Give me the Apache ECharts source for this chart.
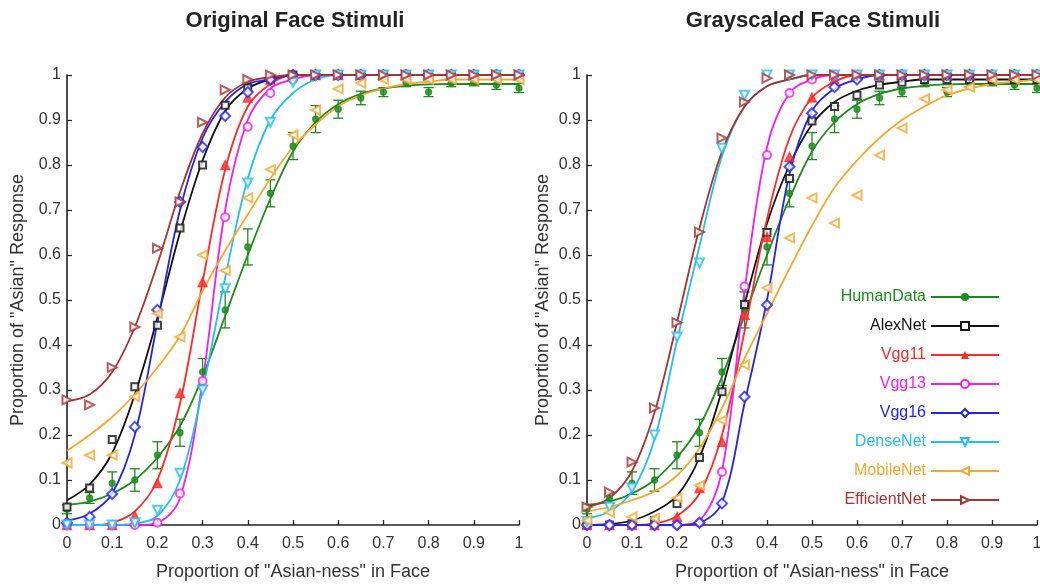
<!DOCTYPE html>
<html><head><meta charset="utf-8">
<script src="https://cdn.jsdelivr.net/npm/echarts@6.0.0/dist/echarts.min.js"></script>
<style>html,body{margin:0;padding:0;background:#fff}#chart{width:1040px;height:585px}</style>
</head><body><div id="chart"></div>
<script>
// ---------- DATA ----------
const xValues = [0,0.05,0.1,0.15,0.2,0.25,0.3,0.35,0.4,0.45,0.5,0.55,0.6,0.65,0.7,0.75,0.8,0.85,0.9,0.95,1];
const modelNames = ['HumanData','AlexNet','Vgg11','Vgg13','Vgg16','DenseNet','MobileNet','EfficientNet'];
const panelTitles = ['Original Face Stimuli','Grayscaled Face Stimuli'];
const xAxisName = 'Proportion of "Asian-ness" in Face';
const yAxisName = 'Proportion of "Asian" Response';

// Human data (same in both panels)
const humanPts = [0.035,0.06,0.093,0.10,0.155,0.205,0.34,0.478,0.618,0.737,0.842,0.902,0.924,0.949,0.962,0.984,0.962,0.982,0.984,0.978,0.971];
const humanErr = [0.01,0.012,0.025,0.025,0.03,0.03,0.03,0.04,0.04,0.03,0.03,0.03,0.02,0.015,0.01,0.01,0.01,0.008,0.008,0.01,0.01];
const humanFit = [0.045,0.052,0.07,0.1,0.15,0.22,0.33,0.465,0.6,0.725,0.83,0.895,0.935,0.958,0.97,0.976,0.979,0.98,0.98,0.98,0.98];

// Original face stimuli (left)
const alexPtsO   = [0.04,0.082,0.19,0.307,0.444,0.66,0.80,0.933,0.971,0.99,1,1,1,1,1,1,1,1,1,1,1];
const alexFitO   = [0.055,0.09,0.16,0.29,0.46,0.65,0.81,0.92,0.97,0.99,1,1,1,1,1,1,1,1,1,1,1];
const vgg11PtsO  = [0,0,0,0.02,0.093,0.293,0.54,0.80,0.95,0.99,1,1,1,1,1,1,1,1,1,1,1];
const vgg11FitO  = [0,0,0.005,0.03,0.1,0.27,0.54,0.79,0.93,0.98,1,1,1,1,1,1,1,1,1,1,1];
const vgg13PtsO  = [0,0,0,0,0.005,0.07,0.32,0.684,0.885,0.96,0.99,1,1,1,1,1,1,1,1,1,1];
const vgg13FitO  = [0,0,0,0,0.005,0.06,0.32,0.7,0.9,0.97,0.99,1,1,1,1,1,1,1,1,1,1];
const vgg16PtsO  = [0.005,0.018,0.069,0.218,0.478,0.718,0.84,0.909,0.962,0.99,1,1,1,1,1,1,1,1,1,1,1];
const vgg16FitO  = [0.01,0.025,0.07,0.2,0.45,0.7,0.86,0.94,0.98,0.99,1,1,1,1,1,1,1,1,1,1,1];
const densePtsO  = [0,0,0,0.005,0.033,0.115,0.3,0.525,0.76,0.895,0.984,1,1,1,1,1,1,1,1,1,1];
const denseFitO  = [0,0,0,0.003,0.02,0.1,0.3,0.55,0.77,0.9,0.96,0.99,1,1,1,1,1,1,1,1,1];
const mobilePtsO = [0.138,0.155,0.155,0.285,0.47,0.418,0.6,0.565,0.727,0.79,0.867,0.922,0.969,0.982,0.99,0.99,0.99,0.99,0.99,0.99,0.99];
const mobileFitO = [0.165,0.2,0.24,0.29,0.35,0.42,0.52,0.61,0.69,0.77,0.84,0.89,0.93,0.955,0.97,0.98,0.985,0.99,0.99,0.99,0.99];
const effPtsO    = [0.278,0.267,0.35,0.44,0.615,0.718,0.895,0.967,0.99,1,1,1,1,1,1,1,1,1,1,1,1];
const effFitO    = [0.275,0.29,0.34,0.44,0.58,0.74,0.87,0.95,0.985,0.995,1,1,1,1,1,1,1,1,1,1,1];

// Grayscaled face stimuli (right)
const alexPtsG   = [0,0,0.003,0.01,0.048,0.15,0.296,0.49,0.65,0.77,0.898,0.93,0.955,0.978,0.984,0.99,0.99,0.99,0.99,0.99,0.99];
const alexFitG   = [0,0.002,0.01,0.03,0.065,0.15,0.3,0.49,0.67,0.8,0.89,0.94,0.965,0.978,0.985,0.99,0.99,0.99,0.99,0.99,0.99];
const vgg11PtsG  = [0,0,0,0,0.018,0.082,0.185,0.467,0.64,0.818,0.95,0.99,1,1,1,1,1,1,1,1,1];
const vgg11FitG  = [0,0,0,0.003,0.02,0.07,0.2,0.43,0.68,0.86,0.95,0.985,1,1,1,1,1,1,1,1,1];
const vgg13PtsG  = [0,0,0,0,0,0.005,0.118,0.53,0.822,0.96,0.99,1,1,1,1,1,1,1,1,1,1];
const vgg13FitG  = [0,0,0,0,0,0.01,0.12,0.52,0.84,0.96,0.99,1,1,1,1,1,1,1,1,1,1];
const vgg16PtsG  = [0,0,0,0,0,0.005,0.048,0.285,0.489,0.796,0.915,0.973,0.99,1,1,1,1,1,1,1,1];
const vgg16FitG  = [0,0,0,0,0,0.005,0.05,0.27,0.5,0.78,0.92,0.97,0.99,1,1,1,1,1,1,1,1];
const densePtsG  = [0.008,0.04,0.082,0.2,0.418,0.582,0.837,0.955,1,1,1,1,1,1,1,1,1,1,1,1,1];
const denseFitG  = [0.015,0.03,0.075,0.19,0.41,0.62,0.82,0.93,0.975,0.99,1,1,1,1,1,1,1,1,1,1,1];
const mobilePtsG = [0.01,0.028,0.018,0.015,0.06,0.088,0.233,0.356,0.527,0.638,0.727,0.671,0.733,0.822,0.882,0.947,0.967,0.973,0.99,0.99,0.99];
const mobileFitG = [0.03,0.04,0.055,0.075,0.11,0.17,0.26,0.37,0.47,0.57,0.665,0.75,0.81,0.86,0.9,0.93,0.955,0.97,0.98,0.985,0.99];
const effPtsG    = [0.04,0.073,0.14,0.26,0.45,0.651,0.86,0.94,0.993,1,1,1,1,1,1,1,1,1,1,1,1];
const effFitG    = [0.04,0.06,0.12,0.25,0.45,0.66,0.83,0.93,0.975,0.99,1,1,1,1,1,1,1,1,1,1,1];

// ---------- STYLE ----------
const styles = {
  HumanData:    {color:'#1e8a1e', symbol:'circle',        rotate:0,   size:6},
  AlexNet:      {color:'#111111', symbol:'emptyRect',     rotate:0,   size:7},
  Vgg11:        {color:'#ff2a2a', symbol:'triangle',      rotate:0,   size:9},
  Vgg13:        {color:'#f01ef0', symbol:'emptyCircle',   rotate:0,   size:8},
  Vgg16:        {color:'#2424e8', symbol:'emptyDiamond',  rotate:0,   size:10},
  DenseNet:     {color:'#22bff0', symbol:'emptyTriangle', rotate:180, size:9},
  MobileNet:    {color:'#f5a830', symbol:'emptyTriangle', rotate:90,  size:9},
  EfficientNet: {color:'#a83232', symbol:'emptyTriangle', rotate:-90, size:9}
};

const panels = [
  {pts:[humanPts,alexPtsO,vgg11PtsO,vgg13PtsO,vgg16PtsO,densePtsO,mobilePtsO,effPtsO],
   fit:[humanFit,alexFitO,vgg11FitO,vgg13FitO,vgg16FitO,denseFitO,mobileFitO,effFitO]},
  {pts:[humanPts,alexPtsG,vgg11PtsG,vgg13PtsG,vgg16PtsG,densePtsG,mobilePtsG,effPtsG],
   fit:[humanFit,alexFitG,vgg11FitG,vgg13FitG,vgg16FitG,denseFitG,mobileFitG,effFitG]}
];

const pair = arr => xValues.map((x,i)=>[x, arr[i]]);
const fmt = v => { const r = Math.round(v*10)/10; return String(r); };

const series = [];
panels.forEach((p, pi) => {
  modelNames.forEach((name, mi) => {
    const st = styles[name];
    series.push({
      type:'line', name, xAxisIndex:pi, yAxisIndex:pi,
      data: pair(p.fit[mi]), smooth:0.35, showSymbol:false,
      symbol: st.symbol, symbolRotate: st.rotate, symbolSize: st.size,
      lineStyle:{color:st.color, width:1.8}, itemStyle:{color:st.color},
      z: 2 + mi, silent:true, animation:false
    });
  });
  // human error bars
  series.push({
    type:'custom', name:'HumanData', xAxisIndex:pi, yAxisIndex:pi,
    data: xValues.map((x,i)=>[x, humanPts[i]-humanErr[i], humanPts[i]+humanErr[i]]),
    encode:{x:0, y:[1,2]},
    renderItem:(params, api) => {
      const lo = api.coord([api.value(0), api.value(1)]);
      const hi = api.coord([api.value(0), api.value(2)]);
      const w = 5, s = {stroke: styles.HumanData.color, lineWidth:1.3};
      return {type:'group', children:[
        {type:'line', shape:{x1:lo[0],y1:lo[1],x2:hi[0],y2:hi[1]}, style:s},
        {type:'line', shape:{x1:lo[0]-w,y1:lo[1],x2:lo[0]+w,y2:lo[1]}, style:s},
        {type:'line', shape:{x1:hi[0]-w,y1:hi[1],x2:hi[0]+w,y2:hi[1]}, style:s}
      ]};
    },
    z: 2, silent:true, animation:false
  });
  modelNames.forEach((name, mi) => {
    const st = styles[name];
    series.push({
      type:'scatter', name, xAxisIndex:pi, yAxisIndex:pi,
      data: pair(p.pts[mi]), symbol: st.symbol, symbolRotate: st.rotate, symbolSize: st.size,
      itemStyle:{color: st.color, borderColor: st.color, borderWidth:1.3},
      z: 10 + mi, silent:true, animation:false
    });
  });
});

const axisCommon = {
  type:'value', min:0, max:1, interval:0.1,
  axisLine:{show:true, onZero:false, lineStyle:{color:'#222', width:1.6}},
  axisTick:{show:true, inside:true, length:5, lineStyle:{color:'#222', width:1.3}},
  axisLabel:{color:'#333', fontSize:16, fontFamily:'Liberation Sans, Arial, sans-serif', formatter: fmt},
  splitLine:{show:false},
  nameLocation:'middle',
  nameTextStyle:{color:'#333', fontSize:18, fontFamily:'Liberation Sans, Arial, sans-serif'}
};

const option = {
  backgroundColor:'#fff',
  animation:false,
  title: [
    {text: panelTitles[0], left: 290, top: 5, textAlign:'center',
     textStyle:{fontSize:22, fontWeight:'bold', color:'#222', fontFamily:'Liberation Sans, Arial, sans-serif'}},
    {text: panelTitles[1], left: 808, top: 5, textAlign:'center',
     textStyle:{fontSize:22, fontWeight:'bold', color:'#222', fontFamily:'Liberation Sans, Arial, sans-serif'}}
  ],
  grid: [
    {left:67, top:75, width:452, height:450, outerBoundsMode:'none', containLabel:false},
    {left:587, top:75, width:450, height:450, outerBoundsMode:'none', containLabel:false}
  ],
  xAxis: [
    Object.assign({}, axisCommon, {gridIndex:0, name:xAxisName, nameGap:38, axisLabel:Object.assign({}, axisCommon.axisLabel, {margin:11})}),
    Object.assign({}, axisCommon, {gridIndex:1, name:xAxisName, nameGap:38, axisLabel:Object.assign({}, axisCommon.axisLabel, {margin:11})})
  ],
  yAxis: [
    Object.assign({}, axisCommon, {gridIndex:0, name:yAxisName, nameGap:40, axisLabel:Object.assign({}, axisCommon.axisLabel, {margin:6})}),
    Object.assign({}, axisCommon, {gridIndex:1, name:yAxisName, nameGap:35, axisLabel:Object.assign({}, axisCommon.axisLabel, {margin:6})})
  ],
  legend: {
    orient:'vertical', align:'right', right:35, top:284,
    itemWidth:68, itemHeight:10, itemGap:13,
    selectedMode:false,
    textStyle:{fontSize:16, lineHeight:16, fontFamily:'Liberation Sans, Arial, sans-serif'},
    data: modelNames.map(n => ({name:n, textStyle:{color: styles[n].color}}))
  },
  series
};

const chart = echarts.init(document.getElementById('chart'), null, {renderer:'canvas'});
chart.setOption(option);
</script></body></html>
